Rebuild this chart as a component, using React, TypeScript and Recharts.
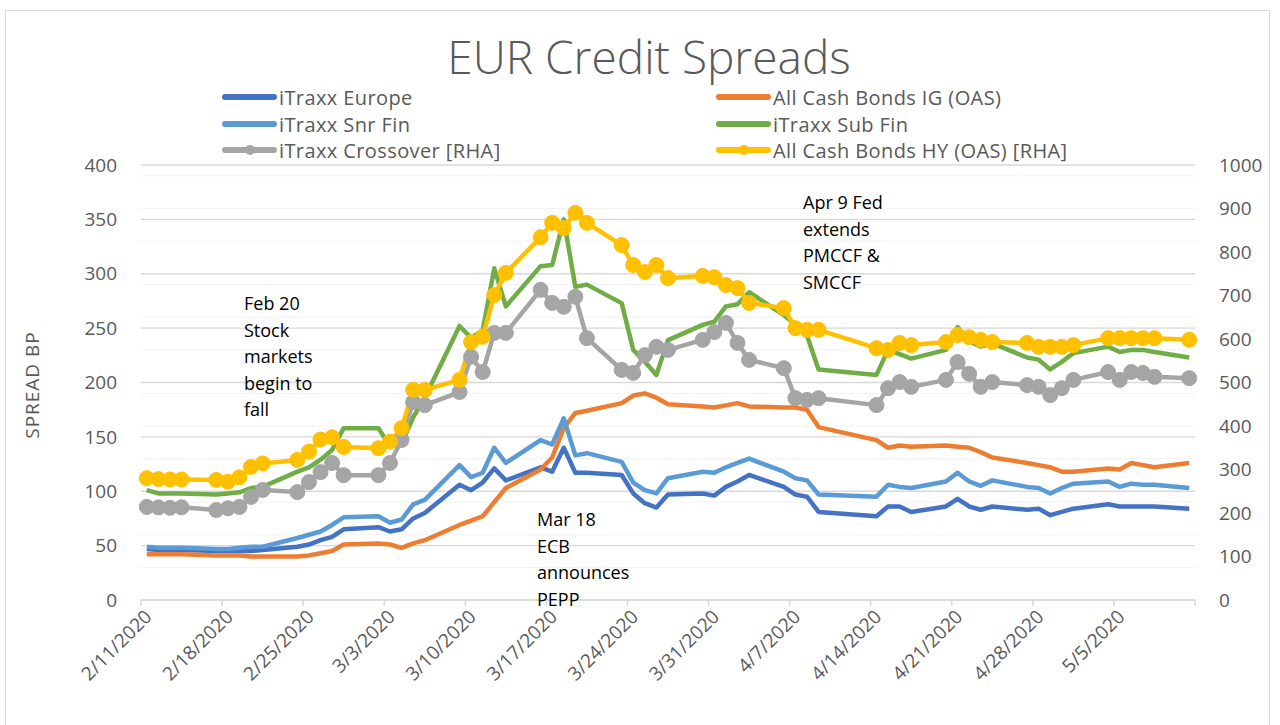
import React from "react";
import { LineChart, Line, XAxis, YAxis, CartesianGrid } from "recharts";

const dates = [
  "2/11", "2/12", "2/13", "2/14", "2/17", "2/18", "2/19", "2/20", "2/21", "2/24", "2/25", "2/26", "2/27", "2/28",
  "3/2", "3/3", "3/4", "3/5", "3/6", "3/9", "3/10", "3/11", "3/12", "3/13", "3/16", "3/17", "3/18", "3/19", "3/20",
  "3/23", "3/24", "3/25", "3/26", "3/27", "3/30", "3/31", "4/1", "4/2", "4/3", "4/6", "4/7", "4/8", "4/9",
  "4/14", "4/15", "4/16", "4/17", "4/20", "4/21", "4/22", "4/23", "4/24", "4/27", "4/28", "4/29", "4/30", "5/1",
  "5/4", "5/5", "5/6", "5/7", "5/8", "5/11",
];

const itraxxEurope = [
  47, 46, 46, 46, 45, 45, 45, 45, 46, 49, 51, 55, 58, 65,
  67, 63, 65, 75, 80, 106, 101, 108, 121, 110, 122, 118, 140, 117, 117,
  115, 98, 89, 85, 97, 98, 96, 104, 109, 115, 104, 97, 95, 81,
  77, 86, 86, 81, 86, 93, 86, 83, 86, 83, 84, 78, 81, 84,
  88, 86, 86, 86, 86, 84,
];

const cashIG = [
  42, 42, 42, 42, 41, 41, 41, 40, 40, 40, 41, 43, 45, 51,
  52, 51, 48, 52, 55, 69, 73, 77, 90, 103, 120, 131, 158, 172, 174,
  181, 188, 190, 186, 180, 178, 177, 179, 181, 178, 177, 177, 175, 159,
  147, 140, 142, 141, 142, 141, 140, 136, 131, 126, 124, 122, 118, 118,
  121, 120, 126, 124, 122, 126,
];

const snrFin = [
  49, 48, 48, 48, 47, 47, 48, 49, 49, 57, 60, 63, 69, 76,
  77, 71, 74, 88, 92, 124, 113, 117, 140, 126, 147, 143, 167, 133, 135,
  127, 108, 101, 98, 112, 118, 117, 122, 126, 130, 118, 112, 110, 97,
  95, 106, 104, 103, 109, 117, 109, 105, 110, 104, 103, 98, 103, 107,
  109, 104, 107, 106, 106, 103,
];

const subFin = [
  101, 98, 98, 98, 97, 98, 99, 103, 104, 118, 122, 129, 138, 158,
  158, 141, 144, 168, 186, 252, 241, 248, 305, 270, 307, 308, 350, 288, 290,
  273, 230, 219, 207, 239, 253, 256, 270, 272, 283, 262, 253, 243, 212,
  207, 230, 226, 222, 230, 251, 238, 233, 236, 223, 221, 212, 219, 227,
  233, 228, 230, 230, 228, 223,
];

const crossover = [
  214, 213, 212, 213, 207, 211, 214, 237, 253, 248, 271, 294, 315, 287,
  287, 315, 368, 455, 448, 478, 559, 524, 614, 614, 713, 683, 674, 697, 602,
  529, 522, 563, 582, 575, 598, 616, 637, 591, 552, 533, 464, 460, 464,
  448, 487, 501, 490, 506, 547, 520, 490, 501, 494, 490, 471, 487, 506,
  524, 506, 524, 522, 513, 510,
];

const cashHY = [
  280, 278, 277, 277, 276, 272, 282, 306, 314, 322, 341, 369, 374, 352,
  349, 364, 395, 483, 483, 506, 593, 605, 701, 752, 834, 867, 855, 890, 867,
  816, 770, 754, 770, 740, 745, 742, 724, 717, 683, 671, 625, 621, 621,
  579, 575, 591, 586, 593, 609, 604, 598, 593, 591, 582, 582, 582, 586,
  602, 602, 602, 602, 602, 598,
];

const leftTicks = [0, 50, 100, 150, 200, 250, 300, 350, 400];
const rightTicks = [0, 100, 200, 300, 400, 500, 600, 700, 800, 900, 1000];
const minorGrid = [10, 20, 30, 40, 60, 70, 80, 90, 110, 120, 130, 140, 160, 170, 180, 190, 210, 220, 230, 240, 260, 270, 280, 290, 310, 320, 330, 340, 360, 370, 380, 390];
const weekTicks = [0, 7, 14, 21, 28, 35, 42, 49, 56, 63, 70, 77, 84, 91];

const DAY = 86400000;
const START = Date.UTC(2020, 1, 11);

const dayOffset = (d: string) => {
  const [m, dd] = d.split("/").map(Number);
  return (Date.UTC(2020, m - 1, dd) - START) / DAY;
};

const data = dates.map((d, i) => ({
  x: dayOffset(d) + 0.5,
  europe: itraxxEurope[i],
  ig: cashIG[i],
  snr: snrFin[i],
  sub: subFin[i],
  xo: crossover[i],
  hy: cashHY[i],
}));

const FONT = "'Open Sans', sans-serif";
const GREY = "#595959";

const DateTick = (props: any) => {
  const { x, y, payload } = props;
  if (payload.value > 84) return null;
  const dt = new Date(START + payload.value * DAY);
  const label = `${dt.getUTCMonth() + 1}/${dt.getUTCDate()}/2020`;
  const ax = x + 12;
  const ay = y + 10;
  return (
    <text x={ax} y={ay} transform={`rotate(-45 ${ax} ${ay})`} textAnchor="end" fill={GREY} fontSize={19} fontFamily={FONT}>
      {label}
    </text>
  );
};

const legendItems = [
  { name: "iTraxx Europe", color: "#4472C4", dot: false, left: 222, top: 97 },
  { name: "iTraxx Snr Fin", color: "#5B9BD5", dot: false, left: 222, top: 124 },
  { name: "iTraxx Crossover [RHA]", color: "#A5A5A5", dot: true, left: 222, top: 150 },
  { name: "All Cash Bonds IG (OAS)", color: "#ED7D31", dot: false, left: 716, top: 97 },
  { name: "iTraxx Sub Fin", color: "#70AD47", dot: false, left: 716, top: 124 },
  { name: "All Cash Bonds HY (OAS) [RHA]", color: "#FFC000", dot: true, left: 716, top: 150 },
];

const notes = [
  { left: 244, top: 290, lines: ["Feb 20", "Stock", "markets", "begin to", "fall"] },
  { left: 537, top: 506, lines: ["Mar 18", "ECB", "announces", "PEPP"] },
  { left: 803, top: 189, lines: ["Apr 9 Fed", "extends", "PMCCF &", "SMCCF"] },
];

const App: React.FC = () => {
  return (
    <div style={{ position: "absolute", left: 0, top: 0, width: 1280, height: 725, overflow: "hidden", background: "#fff", fontFamily: FONT }}>
      <div style={{ position: "absolute", left: 5, top: 10, width: 1263, height: 760, border: "1px solid #d9d9d9" }} />
      <div style={{ position: "absolute", left: 0, top: 27, width: 1298, textAlign: "center", fontSize: 46, fontWeight: 300, color: GREY, lineHeight: "58px" }}>
        EUR Credit Spreads
      </div>

      <LineChart width={1280} height={725} data={data} margin={{ top: 165, right: 25, bottom: 15, left: 81 }} style={{ position: "absolute", left: 0, top: 0 }}>
        <CartesianGrid vertical={false} horizontalValues={minorGrid} stroke="#f2f2f2" strokeWidth={1} />
        <CartesianGrid vertical={false} horizontalValues={leftTicks} stroke="#d9d9d9" strokeWidth={1.3} />
        <XAxis
          dataKey="x"
          type="number"
          domain={[0, 91]}
          ticks={weekTicks}
          interval={0}
          height={110}
          stroke="#d9d9d9"
          strokeWidth={1.5}
          tickSize={6}
          tick={<DateTick />}
        />
        <YAxis
          domain={[0, 400]}
          ticks={leftTicks}
          width={60}
          axisLine={false}
          tickLine={false}
          tickMargin={18}
          tick={{ fill: GREY, fontSize: 19, fontFamily: FONT }}
        />
        <YAxis
          yAxisId="right"
          orientation="right"
          domain={[0, 1000]}
          ticks={rightTicks}
          width={60}
          axisLine={false}
          tickLine={false}
          tickMargin={18}
          tick={{ fill: GREY, fontSize: 19, fontFamily: FONT, textAnchor: "start" }}
        />
        <Line type="linear" dataKey="europe" stroke="#4472C4" strokeWidth={4.5} dot={false} isAnimationActive={false} strokeLinejoin="round" />
        <Line type="linear" dataKey="ig" stroke="#ED7D31" strokeWidth={4.5} dot={false} isAnimationActive={false} strokeLinejoin="round" />
        <Line type="linear" dataKey="snr" stroke="#5B9BD5" strokeWidth={4.5} dot={false} isAnimationActive={false} strokeLinejoin="round" />
        <Line type="linear" dataKey="sub" stroke="#70AD47" strokeWidth={4.5} dot={false} isAnimationActive={false} strokeLinejoin="round" />
        <Line
          yAxisId="right"
          type="linear"
          dataKey="xo"
          stroke="#A5A5A5"
          strokeWidth={4.5}
          dot={{ r: 7.5, fill: "#A5A5A5", stroke: "#A5A5A5", strokeWidth: 1 }}
          isAnimationActive={false}
          strokeLinejoin="round"
        />
        <Line
          yAxisId="right"
          type="linear"
          dataKey="hy"
          stroke="#FFC000"
          strokeWidth={4.5}
          dot={{ r: 7.5, fill: "#FFC000", stroke: "#FFC000", strokeWidth: 1 }}
          isAnimationActive={false}
          strokeLinejoin="round"
        />
      </LineChart>

      <div
        style={{
          position: "absolute",
          left: 32,
          top: 385,
          transform: "translate(-50%, -50%) rotate(-90deg)",
          fontSize: 19,
          letterSpacing: 1,
          color: GREY,
          whiteSpace: "nowrap",
        }}
      >
        SPREAD BP
      </div>

      {legendItems.map((it) => (
        <div key={it.name} style={{ position: "absolute", left: it.left, top: it.top - 14, height: 28, display: "flex", alignItems: "center" }}>
          <div style={{ position: "relative", width: 55, height: 6 }}>
            <div style={{ position: "absolute", left: 0, top: 0, width: 55, height: 6, borderRadius: 3, background: it.color }} />
            {it.dot && (
              <div style={{ position: "absolute", left: 23, top: -2, width: 10, height: 10, borderRadius: 5, background: it.color }} />
            )}
          </div>
          <span style={{ marginLeft: 2, fontSize: 20, letterSpacing: 0.4, color: GREY, whiteSpace: "nowrap" }}>{it.name}</span>
        </div>
      ))}

      {notes.map((n) => (
        <div key={n.lines[0]} style={{ position: "absolute", left: n.left, top: n.top, fontSize: 18, lineHeight: "26.5px", color: "#000" }}>
          {n.lines.map((l) => (
            <div key={l} style={{ whiteSpace: "nowrap" }}>{l}</div>
          ))}
        </div>
      ))}
    </div>
  );
};

export default App;
